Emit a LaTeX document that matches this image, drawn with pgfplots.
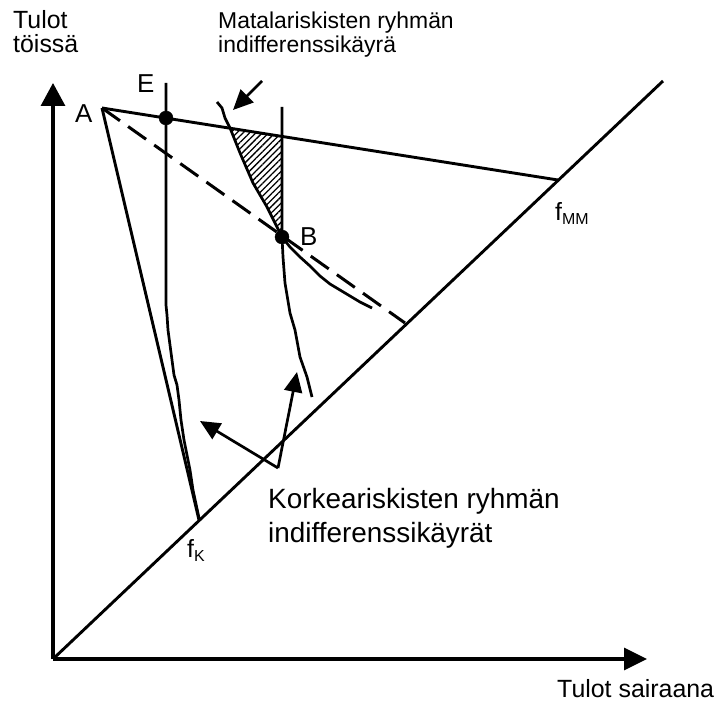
\documentclass[border=0pt]{standalone}
\usepackage{fontspec}
\setmainfont{Liberation Sans}
\usepackage{pgfplots}
\pgfplotsset{compat=1.18}
\usetikzlibrary{arrows.meta,patterns.meta}
\begin{document}
\begin{tikzpicture}
\begin{axis}[scale only axis, width=724bp, height=707bp,
  xmin=0, xmax=724, ymin=0, ymax=707, y dir=reverse,
  hide axis, clip=false]
\addplot[draw=none, forget plot] coordinates {(0,0) (724,707)};
% hatched region
\addplot[draw=none, pattern={Lines[angle=45,distance=4.5bp,line width=1.3bp]}]
  coordinates {(230,128.2) (240,153) (253,183) (267,207) (277,227) (282,237) (282,136.4)} -- cycle;
% axes
\addplot[black, line width=3.2bp, -{Triangle[length=23bp,width=24bp]}] coordinates {(53,659) (53,83)};
\addplot[black, line width=3.2bp, -{Triangle[length=23bp,width=22bp]}] coordinates {(53,659) (647,659)};
% 45-degree line
\addplot[black, line width=2.9bp] coordinates {(53,659) (663,81)};
% budget lines from A
\addplot[black, line width=2.9bp] coordinates {(102,108) (558,180)};
\addplot[black, line width=2.9bp] coordinates {(102,108) (199,520)};
\addplot[black, line width=3bp, dash pattern=on 22bp off 10bp] coordinates {(102,108) (405,323)};
% high-risk indifference curve through E
\addplot[black, line width=2.7bp] coordinates {(166,83) (166,305) (167,315) (168,330) (170,345) (172,360) (174,375) (177,385) (179,400) (181,420) (184,440) (187,455) (190,470) (193,490) (199,518)};
% high-risk indifference curve through B
\addplot[black, line width=2.7bp] coordinates {(282,107) (282,237) (283,257) (285,283) (290,313) (295,330) (300,357) (307,377) (312,397)};
% low-risk indifference curve
\addplot[black, line width=2.7bp] coordinates {(217,102) (222,108) (225,118) (230,128) (240,153) (253,183) (267,207) (277,227) (282,237) (290,247) (300,257) (310,266) (320,276) (330,284) (340,290) (350,296) (360,302) (372,308)};
% arrows to curves
\addplot[black, line width=2.7bp, -{Triangle[length=20bp,width=18bp]}] coordinates {(262,81) (233,110)};
\addplot[black, line width=2.7bp, -{Triangle[length=20bp,width=18bp]}] coordinates {(278,468) (200,421)};
\addplot[black, line width=2.7bp, -{Triangle[length=20bp,width=18bp]}] coordinates {(278,468) (297,372)};
% points
\addplot[only marks, mark=*, mark size=7bp, black] coordinates {(166,118) (282,237)};
% labels
\node[anchor=base west, inner sep=0, font=\fontsize{25}{25}\selectfont] at (axis cs:13,29) {Tulot};
\node[anchor=base west, inner sep=0, font=\fontsize{25}{25}\selectfont] at (axis cs:13,53) {töissä};
\node[anchor=base west, inner sep=0, font=\fontsize{23}{25}\selectfont] at (axis cs:218,29) {Matalariskisten ryhmän};
\node[anchor=base west, inner sep=0, font=\fontsize{23}{25}\selectfont] at (axis cs:218,53) {indifferenssikäyrä};
\node[anchor=base west, inner sep=0, font=\fontsize{26}{26}\selectfont] at (axis cs:137,93) {E};
\node[anchor=base west, inner sep=0, font=\fontsize{26}{26}\selectfont] at (axis cs:75,123) {A};
\node[anchor=base west, inner sep=0, font=\fontsize{26}{26}\selectfont] at (axis cs:300,245) {B};
\node[anchor=base west, inner sep=0, font=\fontsize{25}{25}\selectfont] at (axis cs:555,220) {f\raisebox{-4bp}{\fontsize{16}{16}\selectfont MM}};
\node[anchor=base west, inner sep=0, font=\fontsize{25}{25}\selectfont] at (axis cs:187,557) {f\raisebox{-4bp}{\fontsize{16}{16}\selectfont K}};
\node[anchor=base west, inner sep=0, font=\fontsize{28}{30}\selectfont] at (axis cs:268,508) {Korkeariskisten ryhmän};
\node[anchor=base west, inner sep=0, font=\fontsize{28}{30}\selectfont] at (axis cs:268,542) {indifferenssikäyrät};
\node[anchor=base west, inner sep=0, font=\fontsize{25}{25}\selectfont] at (axis cs:557,697) {Tulot sairaana};
\end{axis}
\end{tikzpicture}
\end{document}
